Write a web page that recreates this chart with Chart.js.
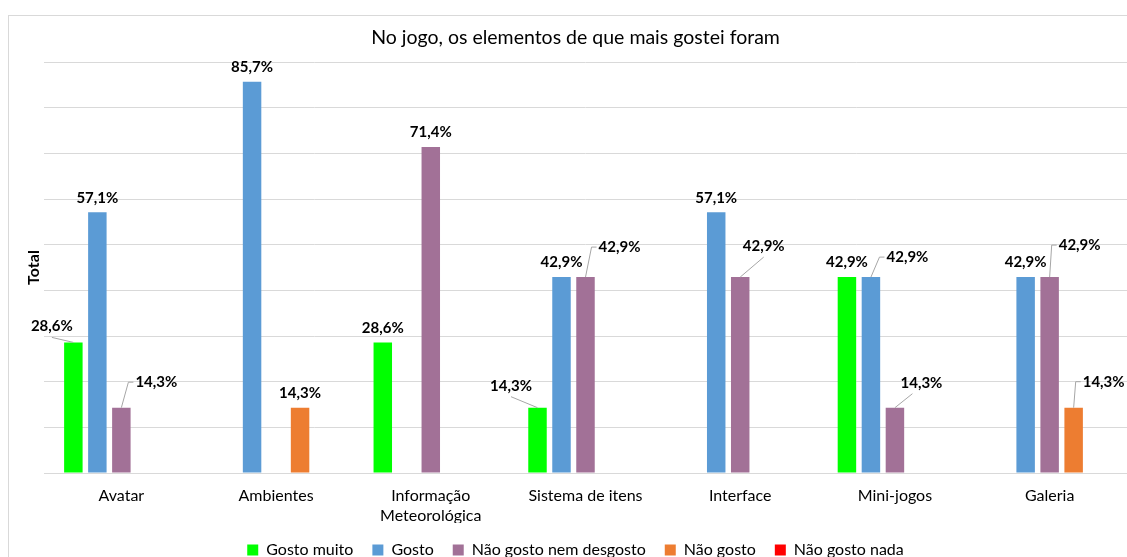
<!DOCTYPE html>
<html>
<head>
<meta charset="utf-8">
<script src="https://cdn.jsdelivr.net/npm/chart.js@4.4.0/dist/chart.umd.min.js"></script>
<style>
html, body { margin: 0; padding: 0; background: #fff; overflow: hidden; }
#moldura { position: absolute; left: 8px; top: 15px; width: 1200px; height: 600px; border: 1px solid #d9d9d9; }
#caixa { position: absolute; left: 0; top: 0; width: 1127px; height: 557px; }
</style>
</head>
<body>
<div id="moldura"></div>
<div id="caixa"><canvas id="grafico" width="1127" height="557"></canvas></div>
<script>
// Dados do gráfico (percentagens)
const categorias = ["Avatar", "Ambientes", ["Informação", "Meteorológica"], "Sistema de itens", "Interface", "Mini-jogos", "Galeria"];
const series = ["Gosto muito", "Gosto", "Não gosto nem desgosto", "Não gosto", "Não gosto nada"];
const gostoMuito = [28.6, null, 28.6, 14.3, null, 42.9, null];
const gosto = [57.1, 85.7, null, 42.9, 57.1, 42.9, 42.9];
const nemNem = [14.3, null, 71.4, 42.9, 42.9, 14.3, 42.9];
const naoGosto = [null, 14.3, null, null, null, null, 14.3];
const naoGostoNada = [null, null, null, null, null, null, null];
const cores = ["#00ff00", "#5b9bd5", "#a27197", "#ed7d31", "#ff0000"];

// Etiquetas que o Excel afastou da barra (chave: serie-categoria)
const etiquetasDeslocadas = {
    "0-0": { dx: -21.5, dy: -16, guia: "baixo" },
    "2-0": { dx: 35, dy: -25.5, guia: "cotovelo" },
    "0-3": { dx: -26.5, dy: -22, guia: "baixo" },
    "2-3": { dx: 34, dy: -30, guia: "cotovelo" },
    "2-4": { dx: 23.5, dy: -31, guia: "baixo" },
    "1-5": { dx: 36.5, dy: -20, guia: "cotovelo" },
    "2-5": { dx: 26.5, dy: -25, guia: "baixo", lx: -9 },
    "2-6": { dx: 30, dy: -32, guia: "cotovelo" },
    "3-6": { dx: 30, dy: -26, guia: "cotovelo" }
};

Chart.defaults.font.family = "Lato, 'Open Sans', sans-serif";
Chart.defaults.color = "#000";

// Plugin para desenhar os valores por cima das barras
const pluginEtiquetas = {
    id: "etiquetas",
    afterDatasetsDraw(chart) {
        const ctx = chart.ctx;
        ctx.save();
        ctx.font = "bold 15px Lato, 'Open Sans', sans-serif";
        ctx.textAlign = "center";
        ctx.textBaseline = "middle";
        chart.data.datasets.forEach((ds, d) => {
            const meta = chart.getDatasetMeta(d);
            meta.data.forEach((barra, i) => {
                const v = ds.data[i];
                if (v == null) return;
                const texto = v.toFixed(1).replace(".", ",") + "%";
                const pos = etiquetasDeslocadas[d + "-" + i];
                const cx = barra.x + (pos ? pos.dx : 0);
                const cy = barra.y + (pos ? pos.dy : -14.5);
                if (pos) {
                    const w = ctx.measureText(texto).width;
                    ctx.strokeStyle = "#a6a6a6";
                    ctx.lineWidth = 1;
                    ctx.beginPath();
                    ctx.moveTo(barra.x, barra.y);
                    if (pos.guia === "cotovelo") {
                        const esq = cx - w / 2;
                        ctx.lineTo(esq - 7, cy);
                        ctx.lineTo(esq - 2, cy);
                    } else {
                        ctx.lineTo(cx + (pos.lx || 0), cy + 11);
                    }
                    ctx.stroke();
                }
                ctx.fillStyle = "#000";
                ctx.fillText(texto, cx, cy);
            });
        });
        ctx.restore();
    }
};

const valores = [gostoMuito, gosto, nemNem, naoGosto, naoGostoNada];

new Chart(document.getElementById("grafico"), {
    type: "bar",
    data: {
        labels: categorias,
        datasets: series.map((nome, k) => ({
            label: nome,
            data: valores[k],
            backgroundColor: cores[k],
            borderWidth: 0,
            categoryPercentage: 0.7756,
            barPercentage: 0.77
        }))
    },
    options: {
        responsive: false,
        animation: false,
        devicePixelRatio: 1,
        layout: { padding: { left: 24, right: 0, top: 0, bottom: -11 } },
        plugins: {
            title: {
                display: true,
                text: "No jogo, os elementos de que mais gostei foram",
                font: { size: 19.5, weight: "normal" },
                color: "#000",
                padding: { top: 26, bottom: 12.6 }
            },
            legend: {
                position: "bottom",
                labels: {
                    boxWidth: 11,
                    boxHeight: 11,
                    padding: 19,
                    font: { size: 16 },
                    color: "#000"
                }
            },
            tooltip: { enabled: false }
        },
        scales: {
            x: {
                grid: { display: false, drawTicks: false },
                border: { color: "#d9d9d9" },
                ticks: {
                    font: { size: 16, lineHeight: 1.25 },
                    color: "#000",
                    padding: 13,
                    maxRotation: 0,
                    autoSkip: false
                },
                afterFit(escala) { escala.height = 50; }
            },
            y: {
                min: 0,
                max: 90,
                ticks: { display: false, stepSize: 10 },
                grid: { color: "#d9d9d9", drawTicks: false },
                border: { display: false },
                title: {
                    display: true,
                    text: "Total",
                    font: { size: 16, weight: "bold" },
                    color: "#000",
                    padding: { top: 0, bottom: 0 }
                },
                afterFit(escala) { escala.width = 20; }
            }
        }
    },
    plugins: [pluginEtiquetas]
});
</script>
</body>
</html>
